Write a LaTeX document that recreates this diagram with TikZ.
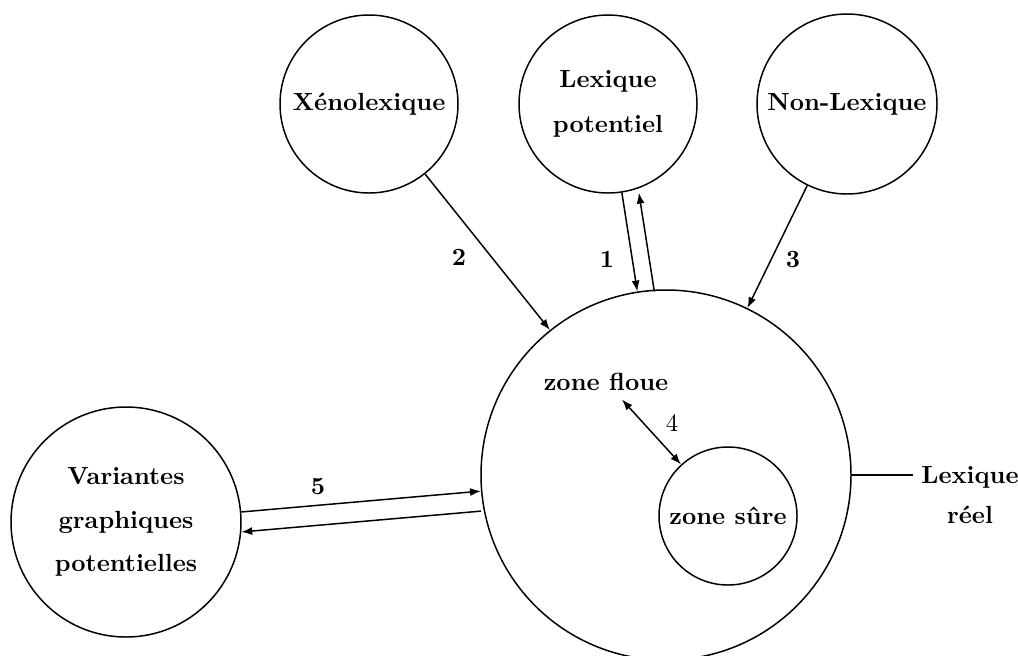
\documentclass[tikz,border=0pt]{standalone}
\usetikzlibrary{arrows.meta}
\begin{document}
\begin{tikzpicture}[x=0.4032pt, y=-0.4032pt,
  every node/.style={font=\bfseries},
  zone/.style={draw, circle, inner sep=0pt, align=center, line width=0.6pt},
  lbl/.style={inner sep=1pt},
  link/.style={line width=0.6pt, -{Latex[length=4.4pt,width=3.2pt]}},
  dlink/.style={line width=0.6pt, {Latex[length=4.4pt,width=3.2pt]}-{Latex[length=4.4pt,width=3.2pt]}}]
\useasboundingbox (0,0) rectangle (1018,655);

% source lexicons
\node[zone, minimum size=178*0.4032pt] (xeno) at (369,104) {X\'enolexique};
\node[zone, minimum size=178*0.4032pt] (pot) at (608,104) {Lexique\\[6pt]potentiel};
\node[zone, minimum size=180*0.4032pt] (non) at (847,104) {Non-Lexique};
\node[zone, minimum size=230*0.4032pt] (var) at (126,522) {Variantes\\[5.5pt]graphiques\\[5.5pt]potentielles};

% real lexicon and its inner zones
\node[zone, minimum size=370*0.4032pt] (reel) at (666,475) {};
\node[zone, minimum size=138*0.4032pt] (sure) at (728,516) {zone s\^ure};
\node (floue) at (606,382) {zone floue};
\node[align=center] (lreel) at (970,495) {Lexique\\[4pt]r\'eel};
\draw[line width=0.6pt] (reel.east) -- (reel.east -| lreel.west);

% exchanges
\draw[link] (xeno) -- (reel);
\draw[link] (pot) -- (reel);
\draw[link, transform canvas={xshift=17*0.4032pt}] (reel) -- (pot);
\draw[link] (non) -- (reel);
\draw[dlink] (floue) -- (sure);
\draw[link] (var) -- (reel);
\draw[link, transform canvas={yshift=-20*0.4032pt}] (reel) -- (var);

% exchange numbers
\node[lbl] (n1) at (607,259) {1};
\node[lbl] (n2) at (459,257) {2};
\node[lbl] (n3) at (793,260) {3};
\node[lbl, font=\mdseries] (n4) at (672,423) {4};
\node[lbl] (n5) at (318,486) {5};
\end{tikzpicture}
\end{document}
